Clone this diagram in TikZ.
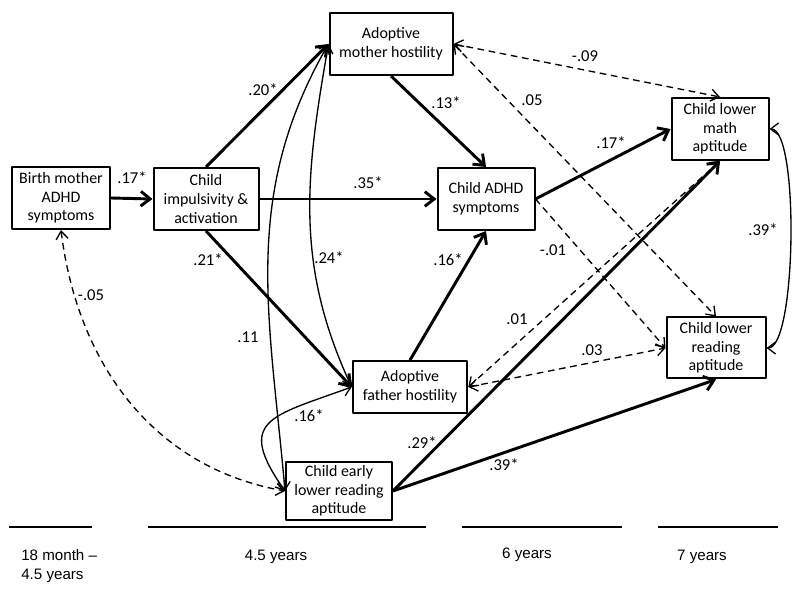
\documentclass[tikz,border=0pt]{standalone}
\usepackage{fontspec}
\setmainfont{Carlito}
\newfontfamily\arialfont{Liberation Sans}
\usetikzlibrary{arrows.meta}

\begin{document}
\begin{tikzpicture}[>={Straight Barb[length=6bp,width=9bp]},line join=bevel,
  varbox/.style={draw,line width=1.5bp,align=center,inner sep=1bp,font=\fontsize{12}{14}\selectfont},
  coef/.style={inner sep=0pt,font=\fontsize{12.5}{14}\selectfont},
  sig/.style={->,line width=2.2bp,>={Straight Barb[length=7bp,width=11bp]}},
  nsig/.style={dash pattern=on 5bp off 3.5bp,line width=1bp},
  corr/.style={<->,line width=1bp},
  timebar/.style={line width=2.2bp},
  timelabel/.style={inner sep=0pt,font=\arialfont\fontsize{11.4}{14}\selectfont}]
  \useasboundingbox (0bp,0bp) rectangle (600bp,449.25bp);
%%
  % Node: bm
  \node[varbox,minimum width=73.5bp,minimum height=46.5bp] (bm) at (45.75bp,300.75bp) {Birth mother\\ADHD\\symptoms};
  % Node: imp
  \node[varbox,minimum width=78.75bp,minimum height=46.5bp] (imp) at (154.5bp,300bp) {Child\\impulsivity \&\\activation};
  % Node: amh
  \node[varbox,minimum width=92.25bp,minimum height=46.5bp] (amh) at (293.25bp,416.25bp) {Adoptive\\mother hostility};
  % Node: adhd
  \node[varbox,minimum width=72.75bp,minimum height=46.5bp] (adhd) at (364.5bp,300bp) {Child ADHD\\symptoms};
  % Node: math
  \node[varbox,minimum width=72.75bp,minimum height=46.5bp] (math) at (540bp,352.5bp) {Child lower\\math\\aptitude};
  % Node: read
  \node[varbox,minimum width=74.25bp,minimum height=45.75bp] (read) at (537bp,188.25bp) {Child lower\\reading\\aptitude};
  % Node: afh
  \node[varbox,minimum width=86bp,minimum height=38.8bp] (afh) at (307.5bp,159bp) {Adoptive\\father hostility};
  % Node: early
  \node[varbox,minimum width=79.5bp,minimum height=43bp] (early) at (254.25bp,81bp) {Child early\\lower reading\\aptitude};
%%
  % Edge: bm -> imp
  \draw[sig] (bm.east) -- (imp.west);
  % Edge: imp -> adhd
  \draw[sig] (imp.east) -- (adhd.west);
  % Edge: imp -> amh
  \draw[sig] (imp.north) -- (amh.west);
  % Edge: imp -> afh
  \draw[sig] (imp.south) -- (afh.west);
  % Edge: amh -> adhd
  \draw[sig] (amh.south) -- (adhd.north);
  % Edge: afh -> adhd
  \draw[sig] (afh.north) -- (adhd.south);
  % Edge: adhd -> math
  \draw[sig] (adhd.east) -- (math.west);
  % Edge: early -> math
  \draw[sig] (early.east) -- (math.south);
  % Edge: early -> read
  \draw[sig] (early.east) -- (read.south);
  % Edge: amh -> math
  \draw[nsig,<->] (amh.east) -- (math.north);
  % Edge: amh -> read
  \draw[nsig,<->] (amh.east) -- (read.north);
  % Edge: adhd -> read
  \draw[nsig,->] (adhd.east) -- (read.west);
  % Edge: afh -> math
  \draw[nsig,<->] (afh.east) -- (math.south);
  % Edge: afh -> read
  \draw[nsig,<->] (afh.east) -- (read.west);
  % Edge: bm -- early
  \draw[nsig,<->] (bm.south) to[out=-83,in=170] (early.west);
  % Edge: amh -- early
  \draw[corr] (amh.west) to[out=240,in=95] (early.west);
  % Edge: amh -- afh
  \draw[corr] (amh.west) to[out=260,in=115] (afh.west);
  % Edge: afh -- early
  \draw[corr] (afh.west) to[out=200,in=125,looseness=1.8] (early.west);
  % Edge: math -- read
  \draw[corr] (math.east) to[out=0,in=0,looseness=0.35] (read.east);
%%
  % Labels
  \node[coef] (c1) at (99bp,315.75bp) {.17*};
  \node[coef] (c2) at (276bp,312bp) {.35*};
  \node[coef] (c3) at (197.25bp,381.75bp) {.20*};
  \node[coef] (c4) at (156bp,254.25bp) {.21*};
  \node[coef] (c5) at (334.5bp,372bp) {.13*};
  \node[coef] (c6) at (246.75bp,255.75bp) {.24*};
  \node[coef] (c7) at (336bp,254.25bp) {.16*};
  \node[coef] (c8) at (68.25bp,228bp) {-.05};
  \node[coef] (c9) at (186bp,196.5bp) {.11};
  \node[coef] (c10) at (231.75bp,137.25bp) {.16*};
  \node[coef] (c11) at (316.5bp,117bp) {.29*};
  \node[coef] (c12) at (378bp,100.5bp) {.39*};
  \node[coef] (c13) at (438.75bp,407.25bp) {-.09};
  \node[coef] (c14) at (399bp,374.25bp) {.05};
  \node[coef] (c15) at (458.25bp,342bp) {.17*};
  \node[coef] (c16) at (414.75bp,261.75bp) {-.01};
  \node[coef] (c17) at (572.25bp,276.75bp) {.39*};
  \node[coef] (c18) at (387.75bp,210bp) {.01};
  \node[coef] (c19) at (444bp,186.75bp) {.03};
%%
  % Time line
  \draw[timebar] (6.75bp,54bp) -- (69bp,54bp);
  \draw[timebar] (111bp,54bp) -- (319.5bp,54bp);
  \draw[timebar] (346.5bp,54bp) -- (466.5bp,54bp);
  \draw[timebar] (493.5bp,54bp) -- (583.5bp,54bp);
  \node[timelabel,align=left,anchor=west] (t1) at (15.75bp,24.75bp) {18 month –\\4.5 years};
  \node[timelabel] (t2) at (207bp,31.5bp) {4.5 years};
  \node[timelabel] (t3) at (395.25bp,33bp) {6 years};
  \node[timelabel] (t4) at (526.5bp,31.5bp) {7 years};
%
\end{tikzpicture}
\end{document}
